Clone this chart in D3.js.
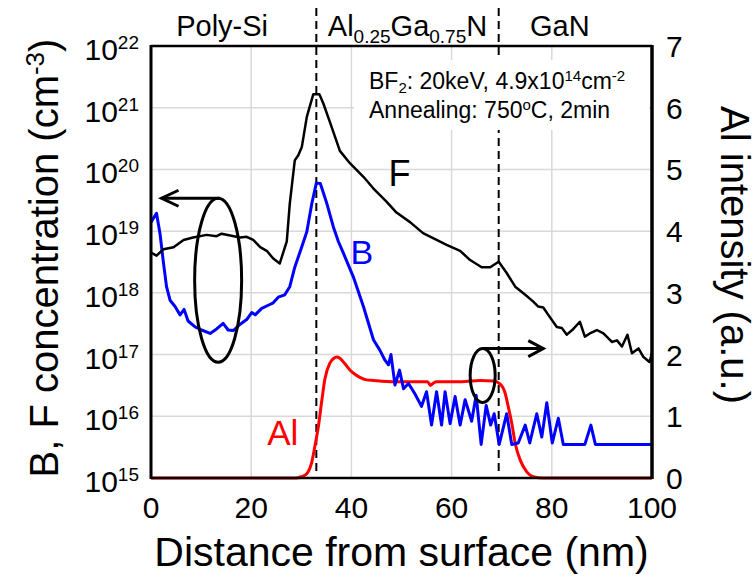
<!DOCTYPE html>
<html><head><meta charset="utf-8">
<script src="https://cdn.jsdelivr.net/npm/d3@7/dist/d3.min.js"></script>
<style>body{margin:0;background:#fff} svg{display:block} text{font-family:"Liberation Sans",Arial,Helvetica,sans-serif}</style>
</head><body>
<svg id="c" width="756" height="576"></svg>
<script>
// ---------- data ----------
const xTicks = [0, 20, 40, 60, 80, 100];
const yExponents = [15, 16, 17, 18, 19, 20, 21, 22];
const yRightTicks = [0, 1, 2, 3, 4, 5, 6, 7];
const boundaries = [33.0, 69.4];

const F_depth = [0,1.1,2.5,4.5,6.5,8.4,11.1,13.1,14.1,15.8,17.8,19.1,20.4,21.8,23.1,24.4,25.7,27.1,27.7,28.7,29.4,30.1,31.1,32.4,33.6,34.4,35.7,37.7,39.7,42.4,44.4,47.0,49.0,51.7,54.3,57.0,59.0,61.7,63.7,66.0,67.7,69.4,71.0,72.7,74.7,76.3,77.3,78.3,79.3,81.0,82.0,83.0,84.3,85.6,86.6,87.6,89.0,90.3,92.0,93.0,94.0,95.1,96.0,97.3,98.3,99.5,100];
const F_conc = [4.5e18,4.0e18,5.1e18,5.5e18,7.2e18,7.9e18,8.7e18,8.3e18,9.1e18,8.5e18,7.9e18,8.1e18,7.2e18,5.5e18,4.8e18,3.6e18,3.0e18,6.8e18,2.8e19,1.4e20,1.7e20,2.3e20,7.1e20,1.66e21,1.66e21,1.17e21,5.9e20,2.0e20,1.26e20,7.6e19,4.9e19,3.0e19,2.0e19,1.4e19,9.3e18,7.2e18,6.0e18,4.8e18,3.4e18,2.6e18,2.6e18,3.2e18,2.1e18,1.26e18,9.3e17,7.2e17,6.0e17,5.8e17,4.4e17,2.8e17,2.7e17,2.1e17,2.6e17,3.4e17,1.95e17,2.2e17,2.5e17,2.2e17,1.6e17,1.7e17,1.35e17,2.1e17,1.05e17,1.26e17,9.1e16,7.6e16,1.05e17];

const B_depth = [0,1.1,1.8,2.5,3.1,3.8,4.8,5.8,6.6,7.4,8.8,10.1,11.8,13.1,14.4,15.4,16.4,17.8,19.1,20.1,20.8,22.1,23.4,24.4,25.4,26.7,27.7,28.7,30.1,31.1,32.1,33.0,33.8,35.1,36.4,37.4,38.4,40.4,42.4,44.4,45.7,46.7,47.4,47.9,48.7,49.6,50.4,51.4,52.7,54.0,55.0,56.0,57.0,58.0,58.7,59.7,60.7,61.7,62.7,64.0,64.9,65.9,66.9,67.8,68.5,69.5,71.0,72.0,73.3,74.7,75.6,77.0,78.0,79.0,80.1,81.3,82.3,86.6,87.8,88.7,100];
const B_conc = [1.4e19,1.95e19,9.1e18,3.0e18,1.26e18,7.6e17,6.0e17,4.4e17,5.4e17,3.5e17,2.8e17,2.5e17,2.2e17,2.6e17,3.2e17,2.5e17,2.45e17,3.1e17,3.7e17,4.8e17,4.4e17,5.6e17,6.3e17,6.9e17,8.5e17,9.3e17,1.26e18,2.6e18,5.6e18,9.8e18,2.8e19,6.0e19,5.9e19,2.8e19,1.17e19,6.8e18,4.4e18,1.8e18,6.0e17,1.74e17,1.17e17,8.1e16,6.8e16,1.0e17,3.2e16,5.6e16,2.8e16,3.4e16,2.3e16,1.45e16,2.5e16,7.2e15,2.5e16,7.2e15,2.5e16,7.6e15,2.1e16,7.2e15,1.86e16,8.3e15,2.2e16,3.5e15,1.5e16,7.2e15,1.1e16,3.5e15,1.1e16,3.5e15,3.7e15,7.2e15,3.7e15,1.1e16,4.6e15,1.66e16,3.7e15,9.3e15,3.5e15,3.5e15,7.2e15,3.5e15,3.5e15];

const Al_depth = [0,29.0,30.0,31.1,32.1,32.7,33.4,34.1,34.7,35.7,36.5,37.1,37.7,38.7,39.7,40.7,41.7,43.0,44.4,48.4,53.7,55.2,55.8,56.4,57.0,62.0,65.7,68.3,69.7,70.7,71.3,72.0,72.7,73.7,75.0,76.3,78.3,100];
const Al_int = [0,0,0.02,0.07,0.26,0.51,0.83,1.26,1.60,1.86,1.94,1.96,1.94,1.85,1.75,1.68,1.63,1.59,1.58,1.56,1.56,1.56,1.50,1.54,1.56,1.56,1.58,1.57,1.52,1.37,1.16,0.89,0.56,0.29,0.10,0.02,0,0];

// ---------- scales ----------
const L = 151, R = 652, T = 46, Bt = 478;
const x = d3.scaleLinear().domain([0, 100]).range([L, R]);
const yL = d3.scaleLog().domain([1e15, 1e22]).range([Bt, T]);
const yR = d3.scaleLinear().domain([0, 7]).range([Bt, T]);

const svg = d3.select("#c");

// grid
const grid = svg.append("g").attr("stroke", "#d9d9d9").attr("stroke-width", 1.5);
grid.selectAll("line.v").data(xTicks.slice(1, -1)).join("line")
  .attr("x1", d => x(d)).attr("x2", d => x(d)).attr("y1", T).attr("y2", Bt);
grid.selectAll("line.h").data(yExponents.slice(1, -1)).join("line")
  .attr("x1", L).attr("x2", R).attr("y1", d => yL(Math.pow(10, d))).attr("y2", d => yL(Math.pow(10, d)));

// boundary dashed lines
svg.append("g").selectAll("line").data(boundaries).join("line")
  .attr("x1", d => x(d)).attr("x2", d => x(d)).attr("y1", 8).attr("y2", 473)
  .attr("stroke", "#000").attr("stroke-width", 2).attr("stroke-dasharray", "8,5");

// annotation box
svg.append("rect").attr("x", 354).attr("y", 60).attr("width", 295).attr("height", 70).attr("fill", "#fff");
const l1 = svg.append("text").attr("font-size", 23).attr("x", 369).attr("y", 89);
l1.append("tspan").text("BF");
l1.append("tspan").attr("font-size", 15).attr("dy", 4).text("2");
l1.append("tspan").attr("dy", -4).text(": 20keV, 4.9x10");
l1.append("tspan").attr("font-size", 15).attr("dy", -8).text("14");
l1.append("tspan").attr("dy", 8).text("cm");
l1.append("tspan").attr("font-size", 15).attr("dy", -8).text("-2");
const l2 = svg.append("text").attr("font-size", 23).attr("x", 369).attr("y", 118);
l2.append("tspan").text("Annealing: 750");
l2.append("tspan").attr("font-size", 15).attr("dy", -8).text("o");
l2.append("tspan").attr("dy", 8).text("C, 2min");

// series
const lineF = d3.line().x((d, i) => x(F_depth[i])).y(d => yL(d));
const lineB = d3.line().x((d, i) => x(B_depth[i])).y(d => yL(d));
const lineAl = d3.line().x((d, i) => x(Al_depth[i])).y(d => yR(d)).curve(d3.curveMonotoneX);

svg.append("path").attr("d", lineAl(Al_int)).attr("fill", "none").attr("stroke", "#ff0000").attr("stroke-width", 3).attr("stroke-linejoin", "round");
svg.append("path").attr("d", lineB(B_conc)).attr("fill", "none").attr("stroke", "#0000ff").attr("stroke-width", 3).attr("stroke-linejoin", "round");
svg.append("path").attr("d", lineF(F_conc)).attr("fill", "none").attr("stroke", "#000").attr("stroke-width", 2.5).attr("stroke-linejoin", "round");

// plot border
const border = svg.append("g").attr("stroke", "#000");
border.append("line").attr("x1", L).attr("x2", R).attr("y1", T).attr("y2", T).attr("stroke-width", 2.5);
border.append("line").attr("x1", L).attr("x2", R).attr("y1", Bt).attr("y2", Bt).attr("stroke-width", 2.5);
border.append("line").attr("x1", L).attr("x2", L).attr("y1", T - 1).attr("y2", Bt + 1).attr("stroke-width", 3);
border.append("line").attr("x1", R).attr("x2", R).attr("y1", T - 1).attr("y2", Bt + 1).attr("stroke-width", 3.5);

// x tick labels
svg.append("g").selectAll("text").data(xTicks).join("text")
  .attr("x", d => x(d)).attr("y", 518).attr("text-anchor", "middle").attr("font-size", 30).text(d => d);

// left tick labels 10^n
const lt = svg.append("g").selectAll("text").data(yExponents).join("text")
  .attr("x", 139).attr("y", d => yL(Math.pow(10, d)) + 14).attr("text-anchor", "end").attr("font-size", 30);
lt.append("tspan").text("10");
lt.append("tspan").attr("font-size", 19).attr("dy", -11).text(d => d);

// right tick labels
svg.append("g").selectAll("text").data(yRightTicks).join("text")
  .attr("x", 666).attr("y", d => yR(d) + 11).attr("font-size", 30).text(d => d);

// axis titles
svg.append("text").attr("x", (L + R) / 2).attr("y", 566).attr("text-anchor", "middle").attr("font-size", 41)
  .text("Distance from surface (nm)");
const ytl = svg.append("text").attr("transform", "translate(58,258) rotate(-90)").attr("text-anchor", "middle").attr("font-size", 40);
ytl.append("tspan").text("B, F concentration (cm");
ytl.append("tspan").attr("font-size", 26).attr("dy", -14).text("-3");
ytl.append("tspan").attr("dy", 14).text(")");
svg.append("text").attr("transform", "translate(721,255) rotate(90)").attr("text-anchor", "middle").attr("font-size", 40)
  .text("Al intensity (a.u.)");

// layer labels at the top
svg.append("text").attr("x", x(14.2)).attr("y", 36).attr("text-anchor", "middle").attr("font-size", 29).text("Poly-Si");
const mid = svg.append("text").attr("x", x(51.2)).attr("y", 36).attr("text-anchor", "middle").attr("font-size", 29);
mid.append("tspan").text("Al");
mid.append("tspan").attr("font-size", 19).attr("dy", 7).text("0.25");
mid.append("tspan").attr("dy", -7).text("Ga");
mid.append("tspan").attr("font-size", 19).attr("dy", 7).text("0.75");
mid.append("tspan").attr("dy", -7).text("N");
svg.append("text").attr("x", x(81.6)).attr("y", 36).attr("text-anchor", "middle").attr("font-size", 29).text("GaN");

// series labels
svg.append("text").attr("x", x(49.6)).attr("y", yL(5.4e19)).attr("text-anchor", "middle").attr("font-size", 36).text("F");
svg.append("text").attr("x", x(42.1)).attr("y", yL(2.95e18)).attr("text-anchor", "middle").attr("font-size", 34).attr("fill", "#0000ff").text("B");
svg.append("text").attr("x", x(26.3)).attr("y", yR(0.53)).attr("text-anchor", "middle").attr("font-size", 35).attr("fill", "#ff0000").text("Al");

// ellipses with arrows (axis pointers)
const leftEll = {cx: 13.4, cy: 1.6e18, rx: 23.5, ry: 82, tip: 2.1};
const rightEll = {cx: 66.2, cy: 1.66, rx: 12.5, ry: 27, tip: 78.3};
const ann2 = svg.append("g").attr("fill", "none").attr("stroke", "#000").attr("stroke-width", 3);
{
  const cx = x(leftEll.cx), cy = yL(leftEll.cy), top = cy - leftEll.ry, tx = x(leftEll.tip);
  ann2.append("ellipse").attr("cx", cx).attr("cy", cy).attr("rx", leftEll.rx).attr("ry", leftEll.ry);
  ann2.append("line").attr("x1", cx + 2).attr("y1", top).attr("x2", tx).attr("y2", top);
  ann2.append("polyline").attr("points", `${tx + 17},${top - 8} ${tx},${top} ${tx + 17},${top + 8}`);
}
{
  const cx = x(rightEll.cx), cy = yR(rightEll.cy), top = cy - rightEll.ry, tx = x(rightEll.tip);
  ann2.append("ellipse").attr("cx", cx).attr("cy", cy).attr("rx", rightEll.rx).attr("ry", rightEll.ry);
  ann2.append("line").attr("x1", cx).attr("y1", top).attr("x2", tx).attr("y2", top);
  ann2.append("polyline").attr("points", `${tx - 15},${top - 8} ${tx},${top} ${tx - 15},${top + 8}`);
}
</script>
</body></html>
